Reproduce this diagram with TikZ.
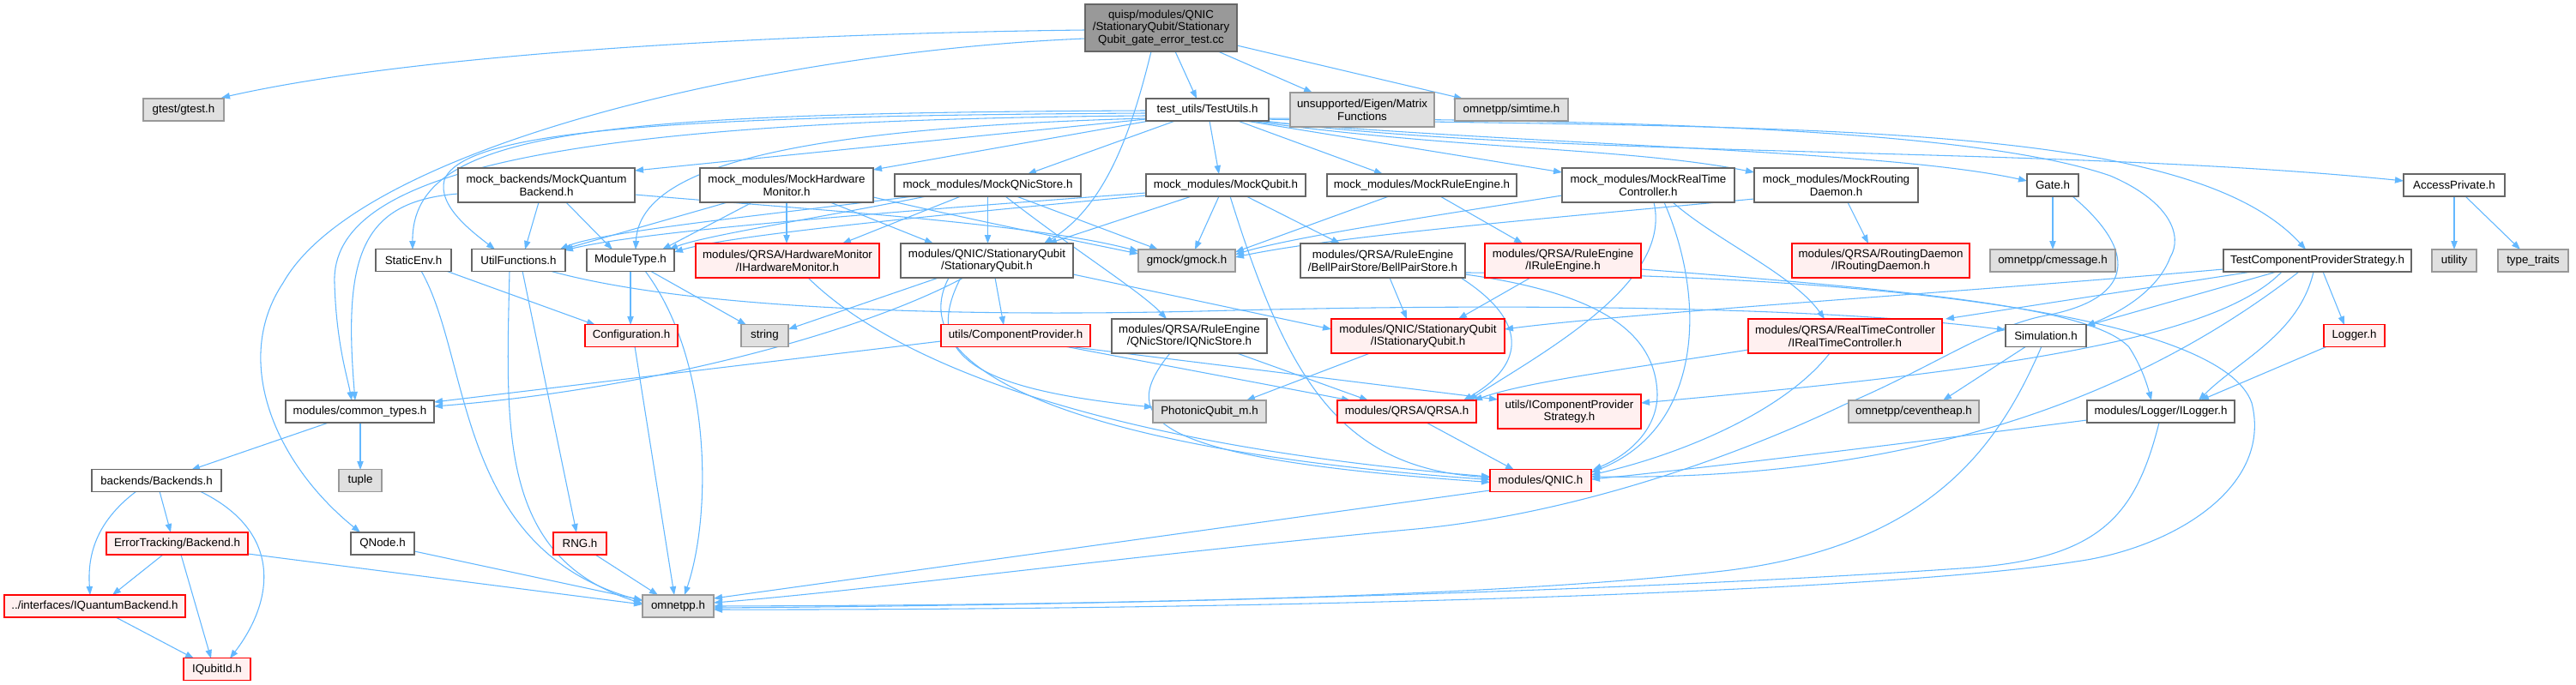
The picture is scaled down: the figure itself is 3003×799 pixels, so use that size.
\documentclass[tikz,border=0pt]{standalone}
\usepackage{fontspec}
\setmainfont{Liberation Sans}
\usetikzlibrary{arrows.meta,calc}
\definecolor{eb}{HTML}{63B8FF}
\definecolor{gforty}{HTML}{666666}
\definecolor{gsixty}{HTML}{999999}
\definecolor{gfill}{HTML}{E0E0E0}
\definecolor{rfill}{HTML}{FFF0F0}
\pgfdeclarelayer{bg}
\pgfsetlayers{bg,main}
\tikzset{
  nb/.style={rectangle, inner sep=0pt, align=center, font=\fontsize{10}{11}\selectfont, line width=0.9pt},
  nw/.style={nb, draw=gforty, fill=white},
  ng/.style={nb, draw=gsixty, fill=gfill},
  nr/.style={nb, draw=red, fill=rfill},
  nt/.style={nb, draw=gforty, fill=gsixty},
  lnk/.style={draw=eb, line width=0.8pt, -{Triangle[length=7.5pt,width=5.5pt]}},
}
\newcommand\nd[7]{\node[#6,minimum width=#4*0.75pt,minimum height=#5*0.75pt] (#1) at (#2,#3) {#7};}
\begin{document}
\begin{tikzpicture}[x=0.75pt,y=-0.75pt]
\useasboundingbox (0,0) rectangle (3003,799);
% nodes
\nd{T}{1353.5}{32.5}{177}{55}{nt}{quisp/modules/QNIC\\/StationaryQubit/Stationary\\Qubit\_gate\_error\_test.cc}
\nd{gtest}{214}{128}{94}{26}{ng}{gtest/gtest.h}
\nd{TU}{1407.5}{128}{143}{26}{nw}{test\_utils/TestUtils.h}
\nd{eigen}{1588}{128}{168}{40}{ng}{unsupported/Eigen/Matrix\\Functions}
\nd{simtime}{1762}{128}{132}{26}{ng}{omnetpp/simtime.h}
\nd{MB}{637}{216}{206}{40}{nw}{mock\_backends/MockQuantum\\Backend.h}
\nd{MHM}{917}{216}{202}{40}{nw}{mock\_modules/MockHardware\\Monitor.h}
\nd{MQ}{1151.5}{216}{217}{26}{nw}{mock\_modules/MockQNicStore.h}
\nd{MQb}{1429}{216}{186}{26}{nw}{mock\_modules/MockQubit.h}
\nd{MRE}{1657.5}{216}{221}{26}{nw}{mock\_modules/MockRuleEngine.h}
\nd{MRTC}{1921.5}{216}{201}{40}{nw}{mock\_modules/MockRealTime\\Controller.h}
\nd{MRD}{2140.5}{216}{191}{40}{nw}{mock\_modules/MockRouting\\Daemon.h}
\nd{Gate}{2393}{216}{60}{26}{nw}{Gate.h}
\nd{AP}{2861}{216}{118}{26}{nw}{AccessPrivate.h}
\nd{SE}{482}{303.5}{88}{26}{nw}{StaticEnv.h}
\nd{UF}{604.5}{303.5}{109}{26}{nw}{UtilFunctions.h}
\nd{MT}{735}{303.5}{102}{26}{nw}{ModuleType.h}
\nd{IHM}{918}{304}{214}{40}{nr}{modules/QRSA/HardwareMonitor\\/IHardwareMonitor.h}
\nd{SQ}{1150.5}{304}{201}{40}{nw}{modules/QNIC/StationaryQubit\\/StationaryQubit.h}
\nd{gmock}{1383.5}{304}{113}{26}{ng}{gmock/gmock.h}
\nd{BPS}{1612}{304}{192}{40}{nw}{modules/QRSA/RuleEngine\\/BellPairStore/BellPairStore.h}
\nd{IRE}{1822}{304}{182}{40}{nr}{modules/QRSA/RuleEngine\\/IRuleEngine.h}
\nd{IRD}{2192.5}{304}{207}{40}{nr}{modules/QRSA/RoutingDaemon\\/IRoutingDaemon.h}
\nd{cmsg}{2393}{304}{146}{26}{ng}{omnetpp/cmessage.h}
\nd{TCPS}{2701.5}{304}{219}{26}{nw}{TestComponentProviderStrategy.h}
\nd{utility}{2861}{304}{52}{26}{ng}{utility}
\nd{tt}{2953}{304}{82}{26}{ng}{type\_traits}
\nd{Config}{736}{391.5}{108}{26}{nr}{Configuration.h}
\nd{string}{891.5}{391.5}{55}{26}{ng}{string}
\nd{CP}{1184}{391.5}{174}{26}{nr}{utils/ComponentProvider.h}
\nd{IQ}{1386.5}{392}{181}{40}{nw}{modules/QRSA/RuleEngine\\/QNicStore/IQNicStore.h}
\nd{IS}{1653}{392}{202}{40}{nr}{modules/QNIC/StationaryQubit\\/IStationaryQubit.h}
\nd{IRTC}{2151}{392}{226}{40}{nr}{modules/QRSA/RealTimeController\\/IRealTimeController.h}
\nd{Sim}{2385}{391.5}{94}{26}{nw}{Simulation.h}
\nd{Logger}{2744.5}{391.5}{71}{26}{nr}{Logger.h}
\nd{CT}{419.5}{480}{173}{26}{nw}{modules/common\_types.h}
\nd{PQ}{1410}{480}{132}{26}{ng}{PhotonicQubit\_m.h}
\nd{QRSA}{1640}{480}{162}{26}{nr}{modules/QRSA/QRSA.h}
\nd{ICPS}{1829.5}{480}{167}{40}{nr}{utils/IComponentProvider\\Strategy.h}
\nd{ceh}{2231}{480}{152}{26}{ng}{omnetpp/ceventheap.h}
\nd{IL}{2519}{480}{172}{26}{nw}{modules/Logger/ILogger.h}
\nd{tuple}{420}{560.5}{50}{26}{ng}{tuple}
\nd{BK}{182.5}{560.5}{151}{26}{nw}{backends/Backends.h}
\nd{QNIC}{1796}{560.5}{118}{26}{nr}{modules/QNIC.h}
\nd{ETB}{206.5}{634}{165}{26}{nr}{ErrorTracking/Backend.h}
\nd{QNode}{446}{634}{74}{26}{nw}{QNode.h}
\nd{RNG}{676}{634}{62}{26}{nr}{RNG.h}
\nd{IQB}{110.5}{707}{211}{26}{nr}{../interfaces/IQuantumBackend.h}
\nd{omnetpp}{790.5}{707}{83}{26}{ng}{omnetpp.h}
\nd{IQI}{253}{780.5}{78}{26}{nr}{IQubitId.h}
\begin{pgfonlayer}{bg}
\fill[white] (0,0) rectangle (3003,799);
% top node
\draw[lnk] ($(T.center)+(-88.5,2.5)$) .. controls (1000,38) and (520,55) .. ($(gtest.center)+(44,-14)$);
\draw[lnk] ($(T.center)+(-88.5,12.5)$) .. controls (900,60) and (420,170) .. (330,330) .. controls (270,420) and (320,540) .. ($(QNode.center)+(-26,-13)$);
\draw[lnk] ($(T.center)+(16.5,27.5)$) -- ($(TU.center)+(-12.5,-13)$);
\draw[lnk] ($(T.center)+(66.5,27.5)$) -- ($(eigen.center)+(-58,-20)$);
\draw[lnk] ($(T.center)+(88.5,20.5)$) -- ($(simtime.center)+(-57,-13)$);
\draw[lnk] ($(T.center)+(-11.5,27.5)$) .. controls (1320,150) and (1290,240) .. ($(SQ.center)+(66.5,-20)$);
% TestUtils
\draw[lnk] ($(TU.center)+(-71.5,1)$) .. controls (700,132) and (480,150) .. ($(SE.center)+(-1,-12.5)$);
\draw[lnk] ($(TU.center)+(-71.5,4)$) .. controls (800,135) and (540,150) .. (518,210) .. controls (510,240) and (550,270) .. ($(UF.center)+(-27.5,-12.5)$);
\draw[lnk] ($(TU.center)+(-71.5,7)$) .. controls (650,140) and (385,200) .. (390,330) .. controls (392,400) and (405,440) .. ($(CT.center)+(-9.5,-13)$);
\draw[lnk] ($(TU.center)+(-71.5,10)$) .. controls (900,150) and (745,200) .. ($(MT.center)+(6,-12.5)$);
\draw[lnk] ($(TU.center)+(-71.5,11)$) -- ($(MB.center)+(103,-17)$);
\draw[lnk] ($(TU.center)+(-67.5,13)$) -- ($(MHM.center)+(101,-18)$);
\draw[lnk] ($(TU.center)+(-37.5,13)$) -- ($(MQ.center)+(46.5,-13)$);
\draw[lnk] ($(TU.center)+(2.5,13)$) -- ($(MQb.center)+(-8,-13)$);
\draw[lnk] ($(TU.center)+(35.5,13)$) -- ($(MRE.center)+(-45.5,-13)$);
\draw[lnk] ($(TU.center)+(44.5,13)$) -- ($(MRTC.center)+(-100.5,-15)$);
\draw[lnk] ($(TU.center)+(50.5,13)$) .. controls (1700,175) and (1900,172) .. ($(MRD.center)+(-95.5,-15)$);
\draw[lnk] ($(TU.center)+(54.5,13)$) .. controls (1800,170) and (2200,175) .. ($(Gate.center)+(-30,-5)$);
\draw[lnk] ($(TU.center)+(58.5,12)$) .. controls (1800,185) and (2400,170) .. ($(AP.center)+(-59,-5)$);
\draw[lnk] ($(TU.center)+(62.5,11)$) .. controls (2100,150) and (2550,140) .. ($(TCPS.center)+(-13.5,-13)$);
\draw[lnk] ($(TU.center)+(66.5,10)$) .. controls (1900,140) and (2300,150) .. (2460,205) .. controls (2530,235) and (2545,275) .. (2530,300) .. controls (2515,340) and (2470,365) .. ($(Sim.center)+(47,-11.5)$);
% mock backend
\draw[lnk] ($(MB.center)+(-103,10)$) .. controls (420,235) and (400,300) .. ($(CT.center)+(-5.5,-13)$);
\draw[lnk] ($(MB.center)+(-9,20)$) -- ($(UF.center)+(7.5,-12.5)$);
\draw[lnk] ($(MB.center)+(23,20)$) -- ($(MT.center)+(-21,-12.5)$);
\draw[lnk] ($(MB.center)+(103,11)$) .. controls (950,245) and (1200,260) .. ($(gmock.center)+(-56.5,-11)$);
% mock hardware monitor
\draw[lnk] ($(MHM.center)+(-69,20)$) -- ($(UF.center)+(51.5,-12.5)$);
\draw[lnk] ($(MHM.center)+(-40,20)$) -- ($(MT.center)+(37,-12.5)$);
\draw[lnk] ($(MHM.center)+(0,20)$) -- ($(IHM.center)+(-1,-20)$);
\draw[lnk] ($(MHM.center)+(51,20)$) -- ($(SQ.center)+(-62.5,-20)$);
\draw[lnk] ($(MHM.center)+(101,14)$) .. controls (1150,260) and (1250,280) .. ($(gmock.center)+(-56.5,-8)$);
% mock qnic store
\draw[lnk] ($(MQ.center)+(-86.5,13)$) .. controls (900,250) and (700,270) .. ($(UF.center)+(48,-12.5)$);
\draw[lnk] ($(MQ.center)+(-71.5,13)$) .. controls (950,255) and (820,275) .. ($(MT.center)+(45,-12.5)$);
\draw[lnk] ($(MQ.center)+(-31.5,13)$) -- ($(IHM.center)+(64,-20)$);
\draw[lnk] ($(MQ.center)+(0,13)$) -- ($(SQ.center)+(1,-20)$);
\draw[lnk] ($(MQ.center)+(33.5,13)$) -- ($(gmock.center)+(-33.5,-13)$);
\draw[lnk] ($(MQ.center)+(20.5,13)$) .. controls (1250,290) and (1330,340) .. ($(IQ.center)+(-26.5,-20)$);
% mock qubit
\draw[lnk] ($(MQb.center)+(-93,9)$) .. controls (1000,250) and (750,270) .. ($(UF.center)+(53.5,-11.5)$);
\draw[lnk] ($(MQb.center)+(-93,12)$) .. controls (1050,255) and (850,275) .. ($(MT.center)+(51,-9.5)$);
\draw[lnk] ($(MQb.center)+(-40,13)$) -- ($(SQ.center)+(71.5,-20)$);
\draw[lnk] ($(MQb.center)+(-8,13)$) -- ($(gmock.center)+(9.5,-13)$);
\draw[lnk] ($(MQb.center)+(24,13)$) -- ($(BPS.center)+(-50,-20)$);
\draw[lnk] ($(MQb.center)+(5,13)$) .. controls (1500,440) and (1560,545) .. ($(QNIC.center)+(-59,-3.5)$);
% mock rule engine
\draw[lnk] ($(MRE.center)+(-38.5,13)$) -- ($(gmock.center)+(56.5,-10)$);
\draw[lnk] ($(MRE.center)+(21.5,13)$) -- ($(IRE.center)+(-47,-20)$);
% mock real time controller
\draw[lnk] ($(MRTC.center)+(-100.5,12)$) .. controls (1650,255) and (1500,278) .. ($(gmock.center)+(56.5,-7)$);
\draw[lnk] ($(MRTC.center)+(28.5,20)$) .. controls (2000,280) and (2090,320) .. ($(IRTC.center)+(-24,-20)$);
\draw[lnk] ($(MRTC.center)+(6.5,20)$) .. controls (1950,330) and (1800,410) .. ($(QRSA.center)+(72,-13)$);
\draw[lnk] ($(MRTC.center)+(18.5,20)$) .. controls (1990,350) and (1985,500) .. ($(QNIC.center)+(59,-9.5)$);
% mock routing daemon
\draw[lnk] ($(MRD.center)+(-95.5,16)$) .. controls (1800,255) and (1560,275) .. ($(gmock.center)+(56.5,-4)$);
\draw[lnk] ($(MRD.center)+(13.5,20)$) -- ($(IRD.center)+(-14.5,-20)$);
% Gate, AccessPrivate
\draw[lnk] ($(Gate.center)+(0,13)$) -- ($(cmsg.center)+(0,-13)$);
\draw[lnk] ($(Gate.center)+(23,13)$) .. controls (2500,300) and (2480,350) .. (2385,368) .. controls (2320,380) and (2250,430) .. (2150,472) .. controls (2050,520) and (1850,600) .. (1640,618) .. controls (1300,650) and (1000,690) .. ($(omnetpp.center)+(41.5,-4)$);
\draw[lnk] ($(AP.center)+(0,13)$) -- ($(utility.center)+(0,-13)$);
\draw[lnk] ($(AP.center)+(13,13)$) -- ($(tt.center)+(-15,-13)$);
% StaticEnv, UtilFunctions, ModuleType
\draw[lnk] ($(SE.center)+(38,12.5)$) -- ($(Config.center)+(-42,-12.5)$);
\draw[lnk] ($(SE.center)+(9,12.5)$) .. controls (550,420) and (530,640) .. ($(omnetpp.center)+(-41.5,-6)$);
\draw[lnk] ($(UF.center)+(-10.5,12.5)$) .. controls (590,500) and (580,650) .. ($(omnetpp.center)+(-41.5,-3)$);
\draw[lnk] ($(UF.center)+(4.5,12.5)$) -- ($(RNG.center)+(-4,-13)$);
\draw[lnk] ($(UF.center)+(36.5,12.5)$) .. controls (800,360) and (1100,370) .. (1400,363) .. controls (1800,352) and (2150,360) .. ($(Sim.center)+(-47,-6.5)$);
\draw[lnk] ($(MT.center)+(0,12.5)$) -- ($(Config.center)+(-1,-12.5)$);
\draw[lnk] ($(MT.center)+(23,12.5)$) -- ($(string.center)+(-21.5,-12.5)$);
\draw[lnk] ($(MT.center)+(17,12.5)$) .. controls (830,420) and (830,600) .. ($(omnetpp.center)+(7.5,-13)$);
\draw[lnk] ($(Config.center)+(4,12.5)$) -- ($(omnetpp.center)+(-4.5,-13)$);
\draw[lnk] ($(RNG.center)+(18,13)$) -- ($(omnetpp.center)+(-23.5,-13)$);
\draw[lnk] ($(QNode.center)+(37,9)$) -- ($(omnetpp.center)+(-41.5,-7)$);
% backends
\draw[lnk] ($(ETB.center)+(82.5,12)$) -- ($(omnetpp.center)+(-41.5,-2)$);
\draw[lnk] ($(ETB.center)+(-16.5,13)$) -- ($(IQB.center)+(20.5,-13)$);
\draw[lnk] ($(ETB.center)+(4.5,13)$) -- ($(IQI.center)+(-7,-12.5)$);
\draw[lnk] ($(BK.center)+(3.5,12.5)$) -- ($(ETB.center)+(-7.5,-13)$);
\draw[lnk] ($(BK.center)+(-23.5,12.5)$) .. controls (110,610) and (102,650) .. ($(IQB.center)+(-5.5,-13)$);
\draw[lnk] ($(BK.center)+(50.5,12.5)$) .. controls (330,620) and (320,700) .. ($(IQI.center)+(15,-12.5)$);
\draw[lnk] ($(CT.center)+(-36.5,13)$) -- ($(BK.center)+(40.5,-12.5)$);
\draw[lnk] ($(CT.center)+(0.5,13)$) -- ($(tuple.center)+(0,-12.5)$);
\draw[lnk] ($(IQB.center)+(24.5,13)$) -- ($(IQI.center)+(-27,-12.5)$);
% middle
\draw[lnk] ($(IHM.center)+(24,20)$) .. controls (1050,430) and (1300,520) .. ($(QNIC.center)+(-59,-4.5)$);
\draw[lnk] ($(SQ.center)+(-44.5,20)$) .. controls (1050,430) and (1250,525) .. ($(QNIC.center)+(-59,-1)$);
\draw[lnk] ($(SQ.center)+(-30.5,20)$) .. controls (1070,420) and (1150,455) .. ($(PQ.center)+(-66,-5)$);
\draw[lnk] ($(IQ.center)+(-22.5,20)$) .. controls (1300,490) and (1340,535) .. ($(QNIC.center)+(-59,2)$);
\draw[lnk] ($(IQ.center)+(55.5,20)$) -- ($(QRSA.center)+(-45,-13)$);
\draw[lnk] ($(SQ.center)+(-56.5,20)$) -- ($(string.center)+(27.5,-7.5)$);
\draw[lnk] ($(SQ.center)+(-27.5,20)$) .. controls (1000,390) and (750,455) .. ($(CT.center)+(86.5,-6)$);
\draw[lnk] ($(CP.center)+(-87,6.5)$) -- ($(CT.center)+(86.5,-11)$);
\draw[lnk] ($(SQ.center)+(9.5,20)$) -- ($(CP.center)+(-14,-12.5)$);
\draw[lnk] ($(SQ.center)+(100.5,16)$) -- ($(IS.center)+(-101,-8)$);
\draw[lnk] ($(CP.center)+(57,12.5)$) -- ($(QRSA.center)+(-66,-13)$);
\draw[lnk] ($(CP.center)+(61,12.5)$) -- ($(ICPS.center)+(-83.5,-14)$);
\draw[lnk] ($(IS.center)+(-56,20)$) -- ($(PQ.center)+(43,-13)$);
% BellPairStore, IRuleEngine
\draw[lnk] ($(BPS.center)+(8,20)$) -- ($(IS.center)+(-13,-20)$);
\draw[lnk] ($(BPS.center)+(91,20)$) .. controls (1790,380) and (1770,430) .. ($(QRSA.center)+(66,-13)$);
\draw[lnk] ($(BPS.center)+(96,16)$) .. controls (1850,340) and (1930,380) .. (1932,460) .. controls (1932,500) and (1900,530) .. ($(QNIC.center)+(61,-12.5)$);
\draw[lnk] ($(BPS.center)+(96,14)$) .. controls (2200,320) and (2590,370) .. (2625,470) .. controls (2650,570) and (2530,640) .. (2420,655) .. controls (2200,690) and (1500,712) .. ($(omnetpp.center)+(41.5,4)$);
\draw[lnk] ($(IRE.center)+(-38,20)$) -- ($(IS.center)+(47,-20)$);
\draw[lnk] ($(IRE.center)+(91,10)$) .. controls (2250,340) and (2440,360) .. (2482,405) .. controls (2495,425) and (2502,445) .. ($(IL.center)+(-11,-13)$);
% TestComponentProviderStrategy
\draw[lnk] ($(TCPS.center)+(-109.5,10)$) .. controls (2300,340) and (1900,365) .. ($(IS.center)+(101,-8)$);
\draw[lnk] ($(TCPS.center)+(-76.5,13)$) -- ($(IRTC.center)+(117,-20)$);
\draw[lnk] ($(TCPS.center)+(-47.5,13)$) -- ($(Sim.center)+(47,-11.5)$);
\draw[lnk] ($(TCPS.center)+(-41.5,13)$) .. controls (2580,400) and (2300,435) .. ($(ICPS.center)+(83.5,-10)$);
\draw[lnk] ($(TCPS.center)+(-21.5,13)$) .. controls (2470,480) and (2200,560) .. ($(QNIC.center)+(59,-4.5)$);
\draw[lnk] ($(TCPS.center)+(6.5,13)$) -- ($(Logger.center)+(-11.5,-12.5)$);
\draw[lnk] ($(TCPS.center)+(-4.5,13)$) .. controls (2680,390) and (2610,420) .. ($(IL.center)+(44,-13)$);
\draw[lnk] ($(Logger.center)+(-31.5,12.5)$) -- ($(IL.center)+(46,-13)$);
% IRealTimeController
\draw[lnk] ($(IRTC.center)+(-113,16)$) .. controls (1900,430) and (1780,445) .. ($(QRSA.center)+(78,-13)$);
\draw[lnk] ($(IRTC.center)+(-18,20)$) .. controls (2080,480) and (1960,530) .. ($(QNIC.center)+(59,-6.5)$);
% Simulation
\draw[lnk] ($(Sim.center)+(-23,12.5)$) -- ($(ceh.center)+(34,-13)$);
\draw[lnk] ($(Sim.center)+(-5,12.5)$) .. controls (2330,520) and (2250,640) .. (2000,667) .. controls (1700,700) and (1200,706) .. ($(omnetpp.center)+(41.5,0)$);
% ILogger
\draw[lnk] ($(IL.center)+(-86,10)$) .. controls (2200,520) and (1950,550) .. ($(QNIC.center)+(59,-1.5)$);
\draw[lnk] ($(IL.center)+(-2,13)$) .. controls (2490,600) and (2450,650) .. (2300,662) .. controls (1900,690) and (1300,706) .. ($(omnetpp.center)+(41.5,2)$);
% QRSA, QNIC
\draw[lnk] ($(QRSA.center)+(23,13)$) -- ($(QNIC.center)+(-31,-12.5)$);
\draw[lnk] ($(QNIC.center)+(-59,11.5)$) -- ($(omnetpp.center)+(41.5,-9)$);
\end{pgfonlayer}
\end{tikzpicture}
\end{document}
